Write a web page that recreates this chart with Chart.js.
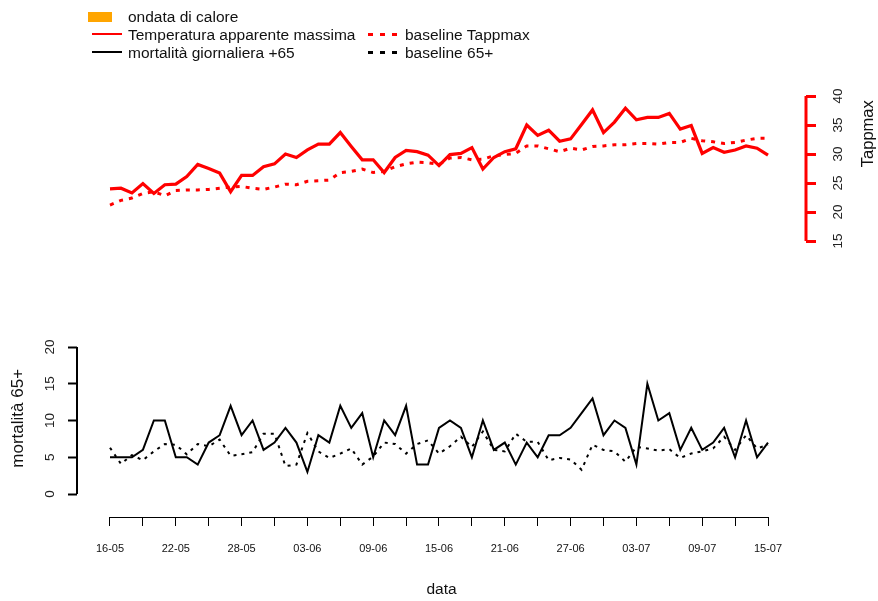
<!DOCTYPE html>
<html>
<head>
<meta charset="utf-8">
<script src="https://cdn.jsdelivr.net/npm/chart.js@4.4.0/dist/chart.umd.min.js"></script>
<style>
  body { margin: 0; background: #fff; }
  #wrap { position: relative; width: 878px; height: 601px; }
  .leg { position: absolute; font: 15.5px "Liberation Sans", Arial, sans-serif; color: #111; line-height: 18px; white-space: nowrap; }
  .sw { position: absolute; }
</style>
</head>
<body>
<div id="wrap">
  <canvas id="chart"></canvas>

  <!-- legend, two columns like the original -->
  <div class="sw" style="left:88px;top:12px;width:24px;height:10px;background:#FFA500"></div>
  <div class="leg" style="left:128px;top:8px">ondata di calore</div>

  <div class="sw" style="left:92px;top:33px;width:30px;height:2px;background:#FF0000"></div>
  <div class="leg" style="left:128px;top:26px">Temperatura apparente massima</div>
  <div class="sw" style="left:368px;top:33px;width:31px;height:3px;background:repeating-linear-gradient(to right,#FF0000 0 5px,transparent 5px 12px)"></div>
  <div class="leg" style="left:405px;top:26px">baseline Tappmax</div>

  <div class="sw" style="left:92px;top:51px;width:30px;height:2px;background:#000"></div>
  <div class="leg" style="left:128px;top:44px">mortalità giornaliera +65</div>
  <div class="sw" style="left:368px;top:51px;width:31px;height:3px;background:repeating-linear-gradient(to right,#000 0 5px,transparent 5px 12px)"></div>
  <div class="leg" style="left:405px;top:44px">baseline 65+</div>
</div>

<script>
"use strict";

// x tick labels (one every 6 days, 16-05 .. 15-07)
const tickLabels = ['16-05', '22-05', '28-05', '03-06', '09-06', '15-06', '21-06', '27-06', '03-07', '09-07', '15-07'];

// temperatura apparente massima (°C), one value per day
const tappmax = [24.0, 24.1, 23.3, 24.9, 23.2, 24.7, 24.8, 26.1, 28.2, 27.5,
                 26.7, 23.5, 26.3, 26.3, 27.8, 28.3, 30.0, 29.4, 30.7, 31.7,
                 31.7, 33.7, 31.3, 29.0, 29.0, 26.8, 29.4, 30.6, 30.4, 29.8,
                 28.0, 29.9, 30.1, 31.1, 27.4, 29.4, 30.4, 30.9, 35.0, 33.2,
                 34.1, 32.2, 32.6, 35.1, 37.6, 33.7, 35.5, 37.9, 35.9, 36.3,
                 36.3, 37.0, 34.3, 34.9, 30.1, 31.1, 30.3, 30.7, 31.4, 31.0,
                 29.8];

// baseline Tappmax
const baselineTappmax = [21.2, 22.0, 22.4, 23.2, 23.5, 22.8, 23.7, 23.8, 23.8, 23.9,
                         24.1, 24.3, 24.4, 24.1, 23.9, 24.3, 24.8, 24.7, 25.3, 25.4,
                         25.5, 26.8, 27.0, 27.4, 26.8, 27.0, 27.8, 28.3, 28.6, 28.5,
                         28.2, 29.3, 29.4, 29.0, 29.1, 29.7, 29.9, 30.1, 31.4, 31.4,
                         30.9, 30.4, 31.0, 30.7, 31.3, 31.4, 31.6, 31.6, 31.8, 31.8,
                         31.7, 32.0, 32.0, 32.7, 32.3, 32.1, 31.8, 32.0, 32.4, 32.7,
                         32.7];

// mortalità giornaliera +65
const mortalita = [5, 5, 5, 6, 10, 10, 5, 5, 4, 7,
                   8, 12, 8, 10, 6, 7, 9, 7, 3, 8,
                   7, 12, 9, 11, 5, 10, 8, 12, 4, 4,
                   9, 10, 9, 5, 10, 6, 7, 4, 7, 5,
                   8, 8, 9, 11, 13, 8, 10, 9, 4, 15,
                   10, 11, 6, 9, 6, 7, 9, 5, 10, 5,
                   7];

// baseline 65+
const baseline65 = [6.3, 4.1, 5.3, 4.6, 5.8, 6.8, 6.7, 5.4, 6.8, 6.5,
                    7.4, 5.2, 5.4, 5.7, 8.2, 8.2, 3.8, 4.0, 8.3, 5.8,
                    4.9, 5.5, 6.2, 4.0, 5.1, 7.0, 6.8, 5.5, 6.8, 7.3,
                    5.5, 6.5, 7.8, 6.4, 8.5, 6.0, 5.8, 8.2, 7.1, 7.1,
                    4.6, 4.9, 4.7, 3.3, 6.7, 6.0, 5.8, 4.4, 6.4, 6.2,
                    5.9, 6.1, 4.9, 5.5, 5.8, 6.2, 7.8, 6.0, 8.0, 6.2,
                    6.7];

const mortTicks = [0, 5, 10, 15, 20];
const tappTicks = [15, 20, 25, 30, 35, 40];
const xTicks = [0, 3, 6, 9, 12, 15, 18, 21, 24, 27, 30, 33, 36, 39, 42, 45, 48, 51, 54, 57, 60];

function toPoints(arr) {
  return arr.map(function (v, i) { return { x: i, y: v }; });
}

Chart.defaults.font.family = '"Liberation Sans", Arial, sans-serif';
Chart.defaults.color = '#000';

// axis lines only over the used range + rotated labels, R style
var rAxes = {
  id: 'rAxes',
  afterDraw: function (chart) {
    var ctx = chart.ctx,
      xs = chart.scales.x,
      yl = chart.scales.y,
      yr = chart.scales.y1,
      area = chart.chartArea;

    ctx.save();
    // x axis
    ctx.strokeStyle = '#000';
    ctx.lineWidth = 1;
    ctx.beginPath();
    ctx.moveTo(xs.getPixelForValue(0), area.bottom + 0.5);
    ctx.lineTo(xs.getPixelForValue(60), area.bottom + 0.5);
    ctx.stroke();

    // left axis (mortality)
    ctx.lineWidth = 2;
    ctx.beginPath();
    ctx.moveTo(area.left, yl.getPixelForValue(0));
    ctx.lineTo(area.left, yl.getPixelForValue(20));
    ctx.stroke();

    // right axis (Tappmax)
    ctx.strokeStyle = '#FF0000';
    ctx.lineWidth = 3;
    ctx.beginPath();
    ctx.moveTo(area.right, yr.getPixelForValue(15));
    ctx.lineTo(area.right, yr.getPixelForValue(40));
    ctx.stroke();

    // rotated tick labels
    ctx.fillStyle = '#222';
    ctx.font = '13.5px "Liberation Sans", Arial, sans-serif';
    ctx.textAlign = 'center';
    ctx.textBaseline = 'middle';
    mortTicks.forEach(function (v) {
      ctx.save();
      ctx.translate(50, yl.getPixelForValue(v));
      ctx.rotate(-Math.PI / 2);
      ctx.fillText(String(v), 0, 0);
      ctx.restore();
    });
    tappTicks.forEach(function (v) {
      ctx.save();
      ctx.translate(838, yr.getPixelForValue(v));
      ctx.rotate(-Math.PI / 2);
      ctx.fillText(String(v), 0, 0);
      ctx.restore();
    });

    // axis titles
    ctx.fillStyle = '#111';
    ctx.font = '17px "Liberation Sans", Arial, sans-serif';
    ctx.save();
    ctx.translate(18, yl.getPixelForValue(10.3));
    ctx.rotate(-Math.PI / 2);
    ctx.fillText('mortalità 65+', 0, 0);
    ctx.restore();

    ctx.font = '16.5px "Liberation Sans", Arial, sans-serif';
    ctx.save();
    ctx.translate(868, yr.getPixelForValue(33.5));
    ctx.rotate(-Math.PI / 2);
    ctx.fillText('Tappmax', 0, 0);
    ctx.restore();

    ctx.restore();
  }
};

var cnv = document.getElementById('chart');
new Chart(cnv, {
  type: 'line',
  data: {
    datasets: [{
      label: 'baseline Tappmax',
      data: toPoints(baselineTappmax),
      yAxisID: 'y1',
      borderColor: '#FF0000',
      borderWidth: 3,
      borderDash: [4, 6],
      pointRadius: 0
    }, {
      label: 'Temperatura apparente massima',
      data: toPoints(tappmax),
      yAxisID: 'y1',
      borderColor: '#FF0000',
      borderWidth: 3.2,
      pointRadius: 0
    }, {
      label: 'baseline 65+',
      data: toPoints(baseline65),
      yAxisID: 'y',
      borderColor: '#000',
      borderWidth: 2,
      borderDash: [3, 5],
      pointRadius: 0
    }, {
      label: 'mortalità giornaliera +65',
      data: toPoints(mortalita),
      yAxisID: 'y',
      borderColor: '#000',
      borderWidth: 2,
      pointRadius: 0
    }]
  },
  options: {
    responsive: true,
    maintainAspectRatio: false,
    animation: false,
    layout: {
      padding: { top: 80, left: 0, right: 0, bottom: 0 }
    },
    scales: {
      x: {
        type: 'linear',
        position: 'bottom',
        min: -3.009,
        max: 63.465,
        afterBuildTicks: function (scale) {
          scale.ticks = xTicks.map(function (v) { return { value: v }; });
        },
        afterFit: function (scale) { scale.height = 84; },
        border: { display: false },
        grid: {
          drawOnChartArea: false,
          tickLength: 9,
          tickColor: '#000',
          tickWidth: 1
        },
        ticks: {
          autoSkip: false,
          maxRotation: 0,
          padding: 16,
          font: { family: '"Liberation Sans Narrow", "Liberation Sans", Arial, sans-serif', size: 11 },
          color: '#111',
          callback: function (value) {
            return value % 6 === 0 ? tickLabels[value / 6] : '';
          }
        },
        title: {
          display: true,
          text: 'data',
          font: { size: 15.5 },
          color: '#111',
          padding: { top: 0, bottom: 2 }
        }
      },
      y: {
        position: 'left',
        min: -3.129,
        max: 56.33,
        afterBuildTicks: function (scale) {
          scale.ticks = mortTicks.map(function (v) { return { value: v }; });
        },
        afterFit: function (scale) { scale.width = 77; },
        border: { display: false },
        grid: {
          drawOnChartArea: false,
          tickLength: 9,
          tickColor: '#000',
          tickWidth: 2
        },
        ticks: { display: false }
      },
      y1: {
        position: 'right',
        min: -32.586,
        max: 42.759,
        afterBuildTicks: function (scale) {
          scale.ticks = tappTicks.map(function (v) { return { value: v }; });
        },
        afterFit: function (scale) { scale.width = 72; },
        border: { display: false },
        grid: {
          drawOnChartArea: false,
          tickLength: 10,
          tickColor: '#FF0000',
          tickWidth: 3
        },
        ticks: { display: false }
      }
    },
    plugins: {
      legend: { display: false },
      tooltip: { enabled: false }
    }
  },
  plugins: [rAxes]
});
</script>
</body>
</html>
